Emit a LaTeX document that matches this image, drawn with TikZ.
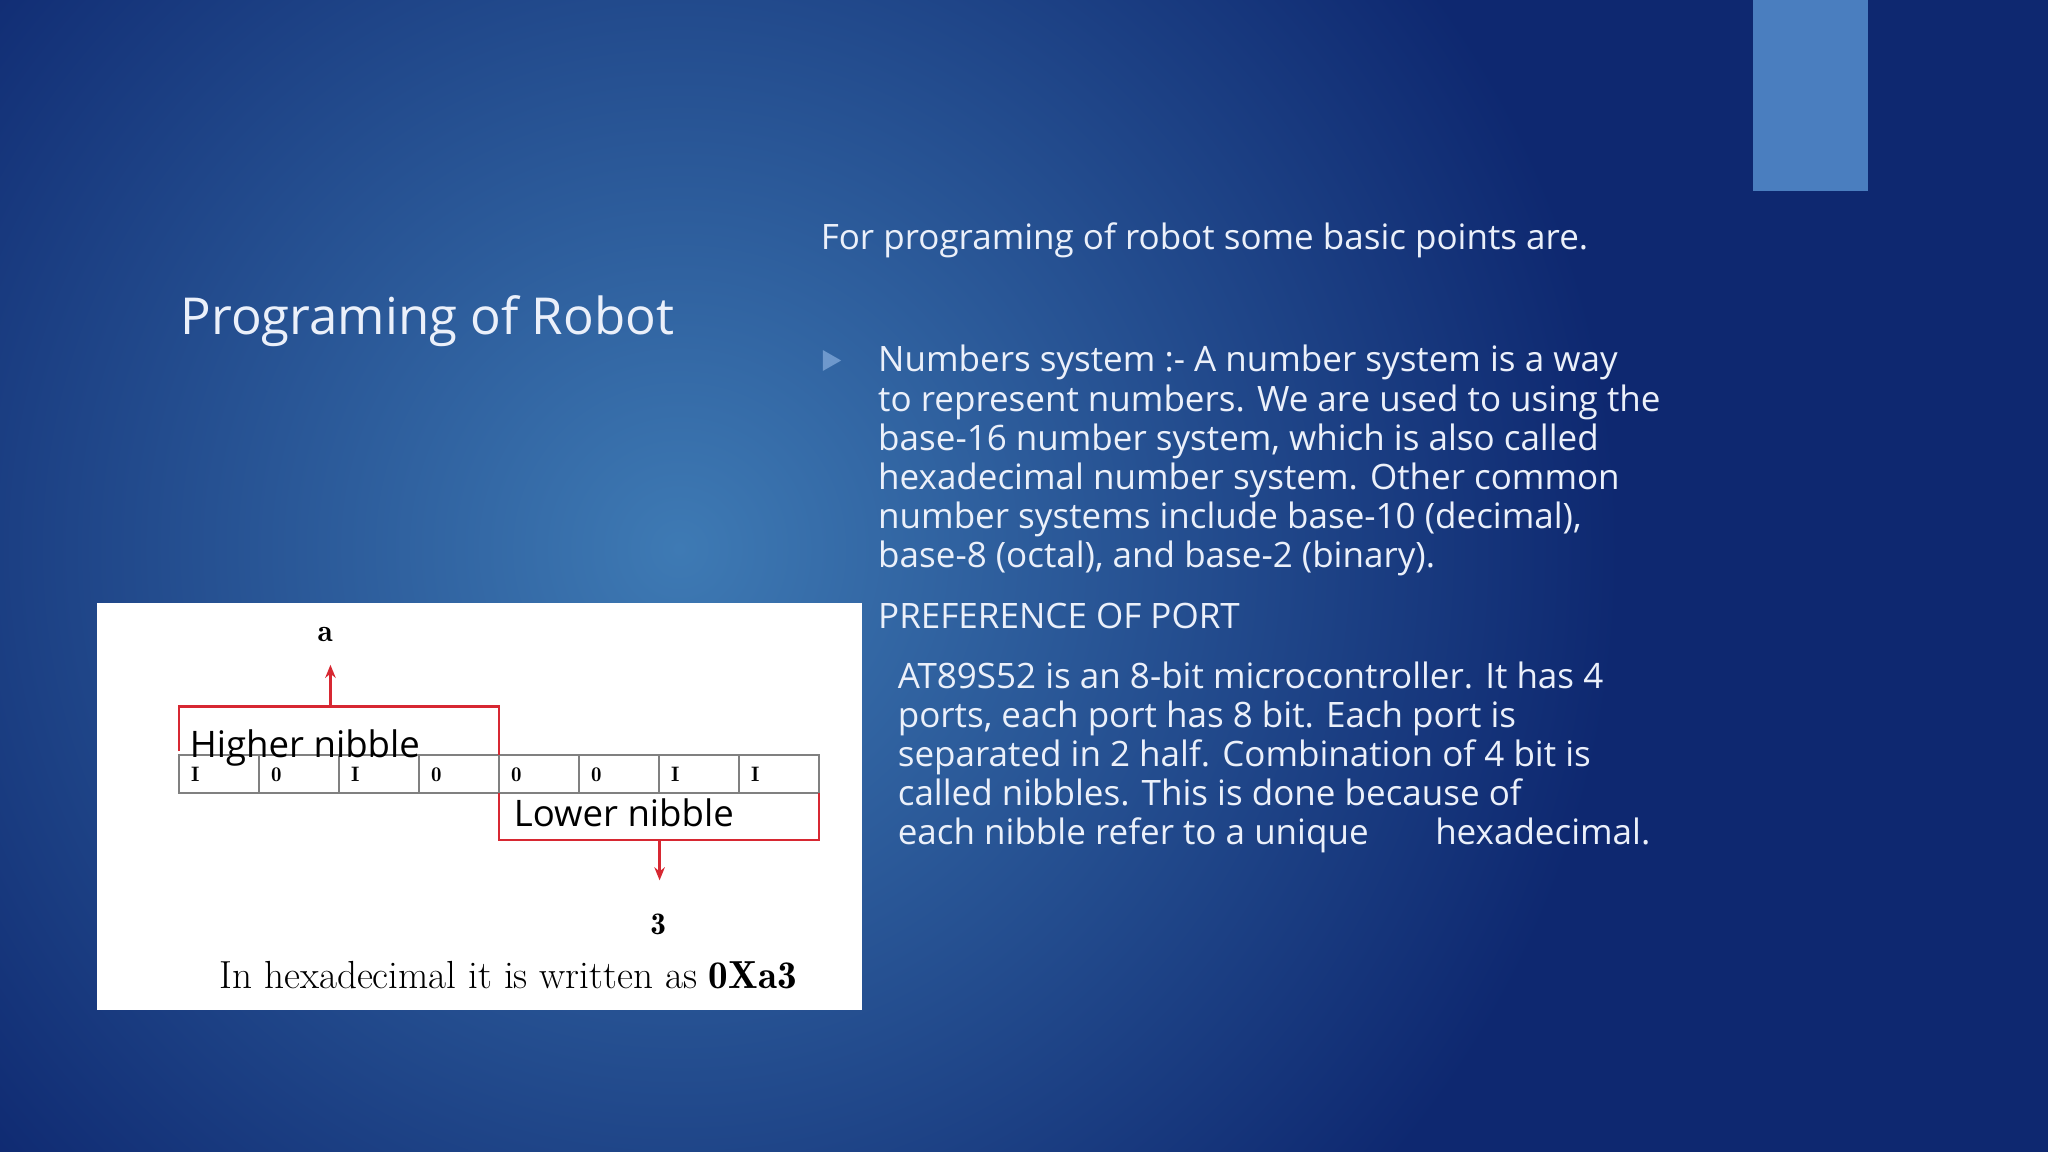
\documentclass[tikz,border=0pt]{standalone}
\usepackage{fontspec}
\setmainfont{Open Sans}
\usetikzlibrary{arrows.meta}
\definecolor{bgdark}{RGB}{14,40,112}
\definecolor{bglight}{RGB}{62,122,180}
\definecolor{tabblue}{RGB}{74,126,191}
\definecolor{txt}{RGB}{235,240,250}
\definecolor{nred}{RGB}{215,40,50}
\begin{document}
\begin{tikzpicture}[x=0.5pt,y=-0.5pt,
  body/.style={text=txt,font=\fontsize{13.4}{15}\selectfont,align=left,anchor=north west,inner sep=0pt},
  bit/.style={font=\fontfamily{lmr}\bfseries\fontsize{8}{8}\selectfont,anchor=base west,inner sep=0pt},
  redbox/.style={draw=nred,line width=1pt},
  redarrow/.style={draw=nred,line width=1pt,-{Stealth[length=5pt,width=4pt]}}]
\useasboundingbox (0,0) rectangle (1568,882);
\fill[bgdark] (0,0) rectangle (1568,882);
\begin{scope}
\clip (0,0) rectangle (1568,882);
\shade[inner color=bglight,outer color=bgdark] (520,420) circle[radius=720];
\end{scope}
\fill[tabblue] (1342,0) rectangle (1430,146);
\node[text=txt,font=\fontsize{19.5}{22}\selectfont,anchor=base west,inner sep=0pt] (title) at (138,256) {Programing of Robot};
\node[text=txt,font=\fontsize{13.4}{15}\selectfont,anchor=base west,inner sep=0pt] (intro) at (628,191) {For programing of robot some basic points are.};
\fill[tabblue!80!white] (630,268) -- (644,276) -- (630,284) -- cycle;
\node[body] (p1) at (672,264) {Numbers system :- A number system is a way\\to represent numbers. We are used to using the\\base-16 number system, which is also called\\hexadecimal number system. Other common\\number systems include base-10 (decimal),\\base-8 (octal), and base-2 (binary).};
\node[text=txt,font=\fontsize{13.4}{15}\selectfont,anchor=base west,inner sep=0pt] (pref) at (672,481) {PREFERENCE OF PORT};
\node[body] (p2) at (687,506) {AT89S52 is an 8-bit microcontroller. It has 4\\ports, each port has 8 bit. Each port is\\separated in 2 half. Combination of 4 bit is\\called nibbles. This is done because of\\each nibble refer to a unique \hspace{22pt}hexadecimal.};
% figure
\fill[white] (74,462) rectangle (660,773);
\draw[gray,line width=0.6pt] (137,578) rectangle (627,607);
\foreach \i/\b in {0/I,1/0,2/I,3/0,4/0,5/0,6/I,7/I}{
  \draw[gray,line width=0.6pt] ({137+61.25*\i},578) -- ({137+61.25*\i},607);
  \node[bit] (b\i) at ({146+61.25*\i},598) {\b};
}
\draw[redbox] (137,575) -- (137,541) -- (382,541) -- (382,578);
\draw[redbox] (382,607) -- (382,643) -- (627,643) -- (627,607);
\node[font=\fontsize{14}{14}\selectfont,anchor=base west,inner sep=0pt] (hn) at (145,580) {Higher nibble};
\node[font=\fontsize{14}{14}\selectfont,anchor=base west,inner sep=0pt] (ln) at (393,633) {Lower nibble};
\node[font=\fontfamily{lmr}\bfseries\fontsize{12}{12}\selectfont,inner sep=1pt] (a) at (249,486) {a};
\node[font=\fontfamily{lmr}\bfseries\fontsize{12}{12}\selectfont,inner sep=1pt] (three) at (504,708) {3};
\coordinate (ha) at (253,541);
\coordinate (la) at (505,643);
\draw[redarrow] (ha) -- (253,509);
\draw[redarrow] (la) -- (505,674);
\node[font=\fontfamily{lmr}\selectfont\fontsize{15}{15}\selectfont,anchor=base,inner sep=0pt] (cap) at (389,757) {In hexadecimal it is written as \textbf{0Xa3}};
\end{tikzpicture}
\end{document}
